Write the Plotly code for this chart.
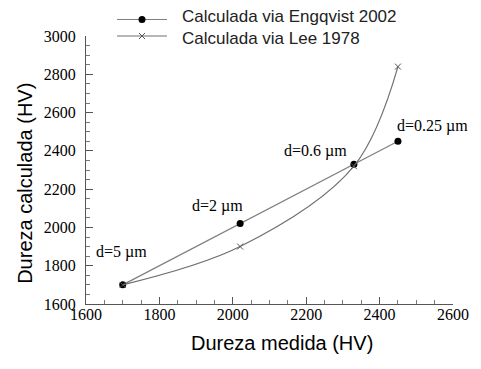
import plotly.graph_objects as go

# Measured vs. calculated hardness
medida = [1700, 2020, 2330, 2450]
engqvist_2002 = [1700, 2020, 2330, 2450]
lee_1978 = [1700, 1900, 2320, 2840]
grain_labels = ["d=5 \u00b5m", "d=2 \u00b5m", "d=0.6 \u00b5m", "d=0.25 \u00b5m"]
# pixel offsets of each grain-size label from its point
label_dx = [-1, -23, -38, 35]
label_dy = [33, 18, 13, 15]
series_names = ["Calculada via Engqvist 2002", "Calculada via Lee 1978"]

serif = "Liberation Serif, Times New Roman, serif"
sans = "Liberation Sans, Arial, sans-serif"
line_grey = "#808080"

fig = go.Figure()
fig.add_trace(go.Scatter(
    x=medida, y=engqvist_2002, mode="lines+markers", name=series_names[0],
    line=dict(color=line_grey, width=1.3),
    marker=dict(symbol="circle", size=7, color="black"),
))
fig.add_trace(go.Scatter(
    x=medida, y=lee_1978, mode="lines+markers", name=series_names[1],
    line=dict(color="#707070", width=1.2, shape="spline", smoothing=1.0),
    marker=dict(symbol="x-thin", size=6, color="#555555",
                line=dict(width=1, color="#555555")),
))

for xv, yv, txt, dx, dy in zip(medida, engqvist_2002, grain_labels, label_dx, label_dy):
    fig.add_annotation(x=xv, y=yv, text=txt, showarrow=False,
                       xshift=dx, yshift=dy,
                       font=dict(family=serif, size=16, color="black"))

# axis titles
fig.add_annotation(xref="paper", yref="paper", x=0.535, y=-0.145,
                   text="Dureza medida (HV)", showarrow=False,
                   xanchor="center", yanchor="middle",
                   font=dict(family=sans, size=20, color="black"))
fig.add_annotation(xref="paper", yref="paper", x=-0.165, y=0.45,
                   text="Dureza calculada (HV)", showarrow=False, textangle=-90,
                   xanchor="center", yanchor="middle",
                   font=dict(family=sans, size=20, color="black"))

# hand-drawn legend above the plot area: long sample line, marker, label
legend_line_rows = [1.0616, 1.0]
legend_text_rows = [1.0709, 0.9925]
shapes = []
for line_y, text_y, name, trace in zip(legend_line_rows, legend_text_rows,
                                       series_names, fig.data):
    shapes.append(dict(type="line", xref="paper", yref="paper",
                       xsizemode="pixel", ysizemode="pixel",
                       xanchor=0, yanchor=line_y, x0=31, x1=81, y0=0, y1=0,
                       line=dict(color=trace.line.color, width=1.2)))
    fig.add_annotation(xref="paper", yref="paper", x=0.257, y=text_y,
                       text=name, showarrow=False, xanchor="left",
                       yanchor="middle",
                       font=dict(family=sans, size=17, color="#222222"))
# legend markers
shapes.append(dict(type="circle", xref="paper", yref="paper",
                   xsizemode="pixel", ysizemode="pixel",
                   xanchor=0, yanchor=legend_line_rows[0],
                   x0=52.5, x1=59.5, y0=-3.5, y1=3.5,
                   fillcolor="black", line=dict(color="black", width=0)))
for sgn in (1, -1):
    shapes.append(dict(type="line", xref="paper", yref="paper",
                       xsizemode="pixel", ysizemode="pixel",
                       xanchor=0, yanchor=legend_line_rows[1],
                       x0=53, x1=59, y0=-3 * sgn, y1=3 * sgn,
                       line=dict(color="#555555", width=1)))

axis_common = dict(
    showgrid=False, zeroline=False, showline=True, linecolor="#555555",
    linewidth=1, ticks="inside", ticklen=7, tickwidth=1, tickcolor="#555555",
    tickfont=dict(family=serif, size=16, color="black"),
    minor=dict(ticks="inside", ticklen=4, tickcolor="#777777", dtick=50),
    mirror=False,
)

fig.update_xaxes(range=[1600, 2600], dtick=200, ticklabelstandoff=-4, **axis_common)
fig.update_yaxes(range=[1600, 3000], dtick=200, ticklabelstandoff=6, **axis_common)

fig.update_layout(
    width=481, height=369,
    margin=dict(l=86, r=18, t=36, b=65),
    paper_bgcolor="white", plot_bgcolor="white",
    font=dict(family=serif, size=16, color="black"),
    showlegend=False,
    shapes=shapes,
)

fig.write_html("out.html")
